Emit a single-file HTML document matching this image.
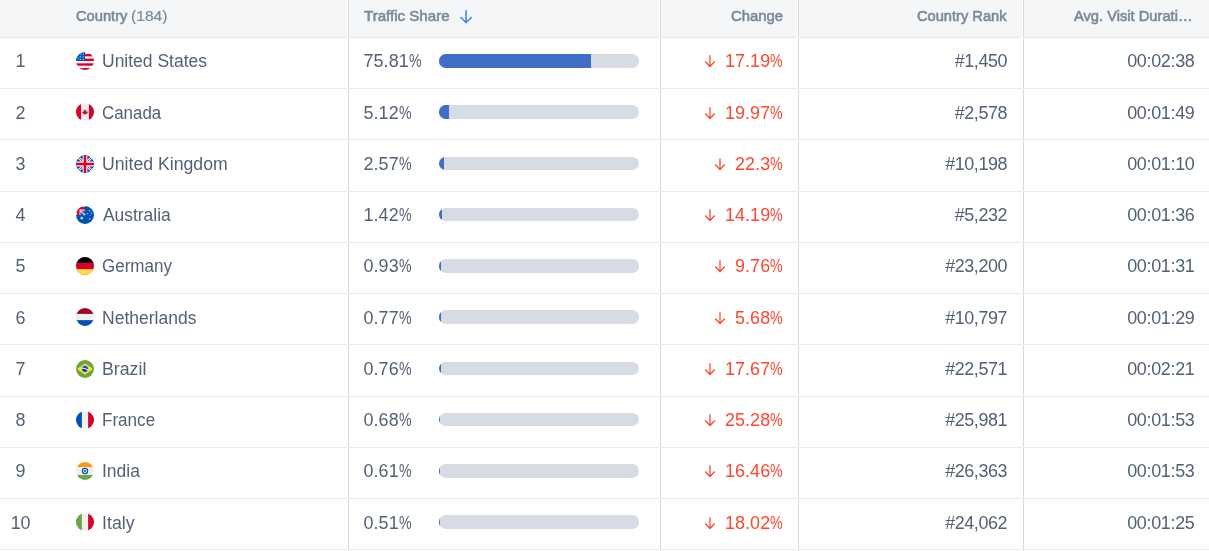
<!DOCTYPE html>
<html><head><meta charset="utf-8"><title>Traffic by country</title>
<style>
*{box-sizing:border-box}
html,body{margin:0;padding:0;background:#fff}
body{width:1209px;height:551px;overflow:hidden;position:relative;font-family:"Liberation Sans",sans-serif}
#t{position:absolute;left:0;top:0;width:1209px;height:551px;overflow:hidden;background:#fff}
#L{position:absolute;left:0;top:0;width:1209px;height:551px;will-change:transform;background:transparent}
.hd{position:absolute;left:0;top:0;width:1209px;height:37px;background:#f4f6f8}
.hl{position:absolute;left:0;width:1209px;height:1px;background:#e9ebee}
.vl{position:absolute;top:0;width:1px;height:551px;background:#d9dbdf}
.vg{position:absolute;top:0;width:1px;height:551px;background:#fff}
.h{position:absolute;top:6.2px;height:20px;line-height:20px;font-size:15.36px;font-weight:normal;color:#7a8899;-webkit-text-stroke:0.6px #7a8899;white-space:pre;transform-origin:0 50%}
.h.n{-webkit-text-stroke:0.2px #7a8899}
.r{position:absolute;left:0;width:1209px;height:51.25px}
.c{position:absolute;top:12.9px;height:22px;line-height:22px;font-size:17.92px;color:#526276;white-space:pre}
.ix{left:0;width:41.2px;text-align:center}
.cn{transform-origin:0 50%}
.ts{left:363.5px;letter-spacing:0.09px}
.ch{right:426.2px;color:#fb4630;letter-spacing:0.09px}
.rk{right:201.9px;letter-spacing:-0.4px}
.du{right:14.5px;letter-spacing:-0.3px}
.p{display:inline-block;width:12.6px;transform:scaleX(.79);transform-origin:0 50%;font-style:normal;letter-spacing:0}
.f{position:absolute;left:76px;top:14.8px;width:18px;height:18px;display:block}
.b{position:absolute;left:439px;top:16.8px;width:200px;height:13.7px;border-radius:6.85px;background:#d7dbe3;overflow:hidden}
.b u{display:block;height:100%;background:#3e6ec6}
.ar{display:inline-block;vertical-align:top;width:12.6px;height:22px;margin-right:8.7px}
</style></head><body>
<div id="t">
<div class="hd"></div>
<div class="vl" style="left:348px"></div>
<div class="vl" style="left:660px"></div>
<div class="vl" style="left:798px"></div>
<div class="vl" style="left:1023px"></div>
<div class="hl" style="top:37px"></div>
<div class="hl" style="top:88px"></div>
<div class="hl" style="top:139px"></div>
<div class="hl" style="top:191px"></div>
<div class="hl" style="top:242px"></div>
<div class="hl" style="top:293px"></div>
<div class="hl" style="top:344px"></div>
<div class="hl" style="top:396px"></div>
<div class="hl" style="top:447px"></div>
<div class="hl" style="top:498px"></div>
<div class="hl" style="top:549px"></div>
<div class="vg" style="left:347px"></div>
<div class="vg" style="left:659px"></div>
<div class="vg" style="left:797px"></div>
<div class="vg" style="left:1022px"></div>
<div id="L">
<div class="h" style="left:76.02px;transform:scaleX(0.9551)">Country</div>
<div class="h n" style="left:131.24px;transform:scaleX(1.0160)">(184)</div>
<div class="h" style="left:363.80px;transform:scaleX(0.9827)">Traffic Share</div>
<svg style="position:absolute;left:459px;top:9px" width="14" height="15" viewBox="0 0 14 15"><path d="M7.1 1.3 V13.4 M1.5 8 L7.1 13.7 L12.7 8" fill="none" stroke="#4285f4" stroke-width="1.6"/></svg>
<div class="h" style="left:730.77px;transform:scaleX(0.9659)">Change</div>
<div class="h" style="left:917.22px;transform:scaleX(0.9536)">Country Rank</div>
<div class="h" style="left:1074.04px;transform:scaleX(0.9559)">Avg. Visit Durati…</div>
<div class="r" style="top:37px">
<div class="c ix" style="top:13px">1</div>
<svg class="f" style="top:14.8px" viewBox="0 0 512 512"><defs><clipPath id="c0"><circle cx="256" cy="256" r="256"/></clipPath></defs><g clip-path="url(#c0)"><rect width="512" height="512" fill="#f0f0f0"/><rect x="244.9" y="55.7" width="268" height="66.8" fill="#d80027"/><rect x="244.9" y="189.2" width="268" height="66.8" fill="#d80027"/><rect x="0" y="322.8" width="512" height="66.8" fill="#d80027"/><rect x="0" y="456.3" width="512" height="56" fill="#d80027"/><rect x="0" y="0" width="256" height="256" fill="#0052b4"/><path d="M120.0,113.0 L126.9,129.5 L144.7,131.0 L131.1,142.6 L135.3,160.0 L120.0,150.7 L104.7,160.0 L108.9,142.6 L95.3,131.0 L113.1,129.5ZM205.0,113.0 L211.9,129.5 L229.7,131.0 L216.1,142.6 L220.3,160.0 L205.0,150.7 L189.7,160.0 L193.9,142.6 L180.3,131.0 L198.1,129.5ZM120.0,181.0 L126.9,197.5 L144.7,199.0 L131.1,210.6 L135.3,228.0 L120.0,218.7 L104.7,228.0 L108.9,210.6 L95.3,199.0 L113.1,197.5ZM205.0,181.0 L211.9,197.5 L229.7,199.0 L216.1,210.6 L220.3,228.0 L205.0,218.7 L189.7,228.0 L193.9,210.6 L180.3,199.0 L198.1,197.5ZM205.0,36.0 L211.3,51.3 L227.8,52.6 L215.3,63.3 L219.1,79.4 L205.0,70.8 L190.9,79.4 L194.7,63.3 L182.2,52.6 L198.7,51.3ZM140.0,55.0 L145.3,67.7 L159.0,68.8 L148.6,77.8 L151.8,91.2 L140.0,84.0 L128.2,91.2 L131.4,77.8 L121.0,68.8 L134.7,67.7ZM60.0,160.0 L65.3,172.7 L79.0,173.8 L68.6,182.8 L71.8,196.2 L60.0,189.0 L48.2,196.2 L51.4,182.8 L41.0,173.8 L54.7,172.7Z" fill="#f0f0f0"/></g></svg>
<div class="c cn" style="top:13px;left:101.73px;transform:scaleX(0.9767)">United States</div>
<div class="c ts" style="top:13px">75.81<i class="p">%</i></div>
<div class="b" style="top:17.00px"><u style="width:151.62px"></u></div>
<div class="c ch" style="top:13px"><svg class="ar" viewBox="0 0 12.6 22"><path d="M6 5.2 V16.4 M1.2 11.5 L6 16.5 L10.8 11.5" fill="none" stroke="#fb4630" stroke-width="1.25"/></svg>17.19<i class="p">%</i></div>
<div class="c rk" style="top:13px">#1,450</div>
<div class="c du" style="top:13px">00:02:38</div>
</div>
<div class="r" style="top:88px">
<div class="c ix" style="top:14px">2</div>
<svg class="f" style="top:14.8px" viewBox="0 0 512 512"><defs><clipPath id="c1"><circle cx="256" cy="256" r="256"/></clipPath></defs><g clip-path="url(#c1)"><rect width="512" height="512" fill="#f0f0f0"/><rect x="0" width="144.7" height="512" fill="#d80027"/><rect x="367.3" width="145" height="512" fill="#d80027"/><path d="M300.5 289.4 L345 267.1 L322.8 256 V233.7 L278.3 256 L300.5 211.5 H278.3 L256 178.1 L233.7 211.5 H211.5 L233.7 256 L189.2 233.7 V256 L167 267.1 L211.5 289.4 L200.3 311.7 H244.9 V345 H267.1 V311.7 H311.7 Z" fill="#d80027"/></g></svg>
<div class="c cn" style="top:14px;left:102.06px;transform:scaleX(0.9441)">Canada</div>
<div class="c ts" style="top:14px">5.12<i class="p">%</i></div>
<div class="b" style="top:17.25px"><u style="width:10.24px"></u></div>
<div class="c ch" style="top:14px"><svg class="ar" viewBox="0 0 12.6 22"><path d="M6 5.2 V16.4 M1.2 11.5 L6 16.5 L10.8 11.5" fill="none" stroke="#fb4630" stroke-width="1.25"/></svg>19.97<i class="p">%</i></div>
<div class="c rk" style="top:14px">#2,578</div>
<div class="c du" style="top:14px">00:01:49</div>
</div>
<div class="r" style="top:139px">
<div class="c ix" style="top:14px">3</div>
<svg class="f" style="top:15.6px" viewBox="0 0 512 512"><defs><clipPath id="c2"><circle cx="256" cy="256" r="256"/></clipPath></defs><g clip-path="url(#c2)"><rect width="512" height="512" fill="#0052b4"/><path d="M0 0 L512 512 M512 0 L0 512" stroke="#f0f0f0" stroke-width="72"/><path d="M0 0 L512 512 M512 0 L0 512" stroke="#d80027" stroke-width="24"/><path d="M256 0 V512 M0 256 H512" stroke="#f0f0f0" stroke-width="136"/><path d="M256 0 V512 M0 256 H512" stroke="#d80027" stroke-width="72"/></g></svg>
<div class="c cn" style="top:14px;left:101.72px;transform:scaleX(0.9868)">United Kingdom</div>
<div class="c ts" style="top:14px">2.57<i class="p">%</i></div>
<div class="b" style="top:17.50px"><u style="width:5.14px"></u></div>
<div class="c ch" style="top:14px"><svg class="ar" viewBox="0 0 12.6 22"><path d="M6 5.2 V16.4 M1.2 11.5 L6 16.5 L10.8 11.5" fill="none" stroke="#fb4630" stroke-width="1.25"/></svg>22.3<i class="p">%</i></div>
<div class="c rk" style="top:14px">#10,198</div>
<div class="c du" style="top:14px">00:01:10</div>
</div>
<div class="r" style="top:191px">
<div class="c ix" style="top:13px">4</div>
<svg class="f" style="top:14.8px" viewBox="0 0 512 512"><defs><clipPath id="c3"><circle cx="256" cy="256" r="256"/></clipPath></defs><g clip-path="url(#c3)"><rect width="512" height="512" fill="#0052b4"/><path d="M0 0 H256 V256 H0 Z" fill="#f0f0f0"/><path d="M20 30 H256 V100 H100 V256 H30 V60 Z" fill="#d80027"/><rect x="133" y="133" width="123" height="123" fill="#0052b4"/><path d="M133 133 L256 256" stroke="#f0f0f0" stroke-width="60"/><path d="M150 133 L256 239" stroke="#d80027" stroke-width="26"/><path d="M133 200 L190 256" stroke="#0052b4" stroke-width="40"/><path d="M163.0,290.0 L174.3,318.6 L203.7,309.6 L188.3,336.2 L213.7,353.6 L183.3,358.2 L185.6,388.9 L163.0,368.0 L140.4,388.9 L142.7,358.2 L112.3,353.6 L137.7,336.2 L122.3,309.6 L151.7,318.6ZM386.0,108.0 L391.2,121.2 L404.8,117.0 L397.7,129.3 L409.4,137.3 L395.4,139.5 L396.4,153.6 L386.0,144.0 L375.6,153.6 L376.6,139.5 L362.6,137.3 L374.3,129.3 L367.2,117.0 L380.8,121.2ZM447.0,176.0 L452.2,189.2 L465.8,185.0 L458.7,197.3 L470.4,205.3 L456.4,207.5 L457.4,221.6 L447.0,212.0 L436.6,221.6 L437.6,207.5 L423.6,205.3 L435.3,197.3 L428.2,185.0 L441.8,189.2ZM322.0,198.0 L327.2,211.2 L340.8,207.0 L333.7,219.3 L345.4,227.3 L331.4,229.5 L332.4,243.6 L322.0,234.0 L311.6,243.6 L312.6,229.5 L298.6,227.3 L310.3,219.3 L303.2,207.0 L316.8,211.2ZM402.0,253.0 L406.4,261.9 L416.3,263.4 L409.1,270.3 L410.8,280.1 L402.0,275.5 L393.2,280.1 L394.9,270.3 L387.7,263.4 L397.6,261.9ZM390.0,344.0 L395.2,357.2 L408.8,353.0 L401.7,365.3 L413.4,373.3 L399.4,375.5 L400.4,389.6 L390.0,380.0 L379.6,389.6 L380.6,375.5 L366.6,373.3 L378.3,365.3 L371.2,353.0 L384.8,357.2Z" fill="#f0f0f0"/></g></svg>
<div class="c cn" style="top:13px;left:102.60px;transform:scaleX(0.9720)">Australia</div>
<div class="c ts" style="top:13px">1.42<i class="p">%</i></div>
<div class="b" style="top:16.75px"><u style="width:2.84px"></u></div>
<div class="c ch" style="top:13px"><svg class="ar" viewBox="0 0 12.6 22"><path d="M6 5.2 V16.4 M1.2 11.5 L6 16.5 L10.8 11.5" fill="none" stroke="#fb4630" stroke-width="1.25"/></svg>14.19<i class="p">%</i></div>
<div class="c rk" style="top:13px">#5,232</div>
<div class="c du" style="top:13px">00:01:36</div>
</div>
<div class="r" style="top:242px">
<div class="c ix" style="top:13px">5</div>
<svg class="f" style="top:14.8px" viewBox="0 0 512 512"><defs><clipPath id="c4"><circle cx="256" cy="256" r="256"/></clipPath></defs><g clip-path="url(#c4)"><rect width="512" height="512" fill="#d80027"/><rect width="512" height="167" fill="#000"/><rect y="345" width="512" height="167" fill="#ffda44"/></g></svg>
<div class="c cn" style="top:13px;left:102.25px;transform:scaleX(0.9503)">Germany</div>
<div class="c ts" style="top:13px">0.93<i class="p">%</i></div>
<div class="b" style="top:17.00px"><u style="width:1.86px"></u></div>
<div class="c ch" style="top:13px"><svg class="ar" viewBox="0 0 12.6 22"><path d="M6 5.2 V16.4 M1.2 11.5 L6 16.5 L10.8 11.5" fill="none" stroke="#fb4630" stroke-width="1.25"/></svg>9.76<i class="p">%</i></div>
<div class="c rk" style="top:13px">#23,200</div>
<div class="c du" style="top:13px">00:01:31</div>
</div>
<div class="r" style="top:293px">
<div class="c ix" style="top:14px">6</div>
<svg class="f" style="top:14.8px" viewBox="0 0 512 512"><defs><clipPath id="c5"><circle cx="256" cy="256" r="256"/></clipPath></defs><g clip-path="url(#c5)"><rect width="512" height="512" fill="#f0f0f0"/><rect width="512" height="167" fill="#a2001d"/><rect y="345" width="512" height="167" fill="#0052b4"/></g></svg>
<div class="c cn" style="top:14px;left:102.23px;transform:scaleX(0.9788)">Netherlands</div>
<div class="c ts" style="top:14px">0.77<i class="p">%</i></div>
<div class="b" style="top:17.25px"><u style="width:1.54px"></u></div>
<div class="c ch" style="top:14px"><svg class="ar" viewBox="0 0 12.6 22"><path d="M6 5.2 V16.4 M1.2 11.5 L6 16.5 L10.8 11.5" fill="none" stroke="#fb4630" stroke-width="1.25"/></svg>5.68<i class="p">%</i></div>
<div class="c rk" style="top:14px">#10,797</div>
<div class="c du" style="top:14px">00:01:29</div>
</div>
<div class="r" style="top:344px">
<div class="c ix" style="top:14px">7</div>
<svg class="f" style="top:15.7px" viewBox="0 0 512 512"><defs><clipPath id="c6"><circle cx="256" cy="256" r="256"/></clipPath></defs><g clip-path="url(#c6)"><rect width="512" height="512" fill="#6da544"/><path d="M256 96 L484 256 L256 416 L28 256 Z" fill="#ffda44"/><circle cx="256" cy="256" r="89" fill="#f0f0f0"/><path d="M211.5 250.4 c-15.5 0 -30.400 2.400 -44.500 6.700 C167.600 305.800 207.200 345 256 345 c30.200 0 56.800 -15 72.900 -38 C301.400 272.600 259 250.400 211.500 250.400z" fill="#0052b4"/><path d="M343.400 273.100 c1.100 -5.500 1.600 -11.200 1.600 -17.100 c0 -49.200 -39.900 -89 -89 -89 c-36.700 0 -68.100 22.200 -81.800 53.800 c11.900 -2.500 24.400 -3.800 37.300 -3.800 C263.400 217 310.400 238.600 343.400 273.100z" fill="#0052b4"/></g></svg>
<div class="c cn" style="top:14px;left:102.21px;transform:scaleX(0.9905)">Brazil</div>
<div class="c ts" style="top:14px">0.76<i class="p">%</i></div>
<div class="b" style="top:17.50px"><u style="width:1.52px"></u></div>
<div class="c ch" style="top:14px"><svg class="ar" viewBox="0 0 12.6 22"><path d="M6 5.2 V16.4 M1.2 11.5 L6 16.5 L10.8 11.5" fill="none" stroke="#fb4630" stroke-width="1.25"/></svg>17.67<i class="p">%</i></div>
<div class="c rk" style="top:14px">#22,571</div>
<div class="c du" style="top:14px">00:02:21</div>
</div>
<div class="r" style="top:396px">
<div class="c ix" style="top:13px">8</div>
<svg class="f" style="top:14.8px" viewBox="0 0 512 512"><defs><clipPath id="c7"><circle cx="256" cy="256" r="256"/></clipPath></defs><g clip-path="url(#c7)"><rect width="512" height="512" fill="#f0f0f0"/><rect width="167" height="512" fill="#0052b4"/><rect x="345" width="167" height="512" fill="#d80027"/></g></svg>
<div class="c cn" style="top:13px;left:102.27px;transform:scaleX(0.9533)">France</div>
<div class="c ts" style="top:13px">0.68<i class="p">%</i></div>
<div class="b" style="top:16.75px"><u style="width:1.36px"></u></div>
<div class="c ch" style="top:13px"><svg class="ar" viewBox="0 0 12.6 22"><path d="M6 5.2 V16.4 M1.2 11.5 L6 16.5 L10.8 11.5" fill="none" stroke="#fb4630" stroke-width="1.25"/></svg>25.28<i class="p">%</i></div>
<div class="c rk" style="top:13px">#25,981</div>
<div class="c du" style="top:13px">00:01:53</div>
</div>
<div class="r" style="top:447px">
<div class="c ix" style="top:13px">9</div>
<svg class="f" style="top:14.8px" viewBox="0 0 512 512"><defs><clipPath id="c8"><circle cx="256" cy="256" r="256"/></clipPath></defs><g clip-path="url(#c8)"><rect width="512" height="512" fill="#f0f0f0"/><rect width="512" height="144.7" fill="#ff9811"/><rect y="367.3" width="512" height="145" fill="#6da544"/><circle cx="256" cy="256" r="74" fill="none" stroke="#0052b4" stroke-width="36"/><circle cx="256" cy="256" r="29" fill="#0052b4"/></g></svg>
<div class="c cn" style="top:13px;left:101.99px;transform:scaleX(0.9784)">India</div>
<div class="c ts" style="top:13px">0.61<i class="p">%</i></div>
<div class="b" style="top:17.00px"><u style="width:1.22px"></u></div>
<div class="c ch" style="top:13px"><svg class="ar" viewBox="0 0 12.6 22"><path d="M6 5.2 V16.4 M1.2 11.5 L6 16.5 L10.8 11.5" fill="none" stroke="#fb4630" stroke-width="1.25"/></svg>16.46<i class="p">%</i></div>
<div class="c rk" style="top:13px">#26,363</div>
<div class="c du" style="top:13px">00:01:53</div>
</div>
<div class="r" style="top:498px">
<div class="c ix" style="top:14px">10</div>
<svg class="f" style="top:14.8px" viewBox="0 0 512 512"><defs><clipPath id="c9"><circle cx="256" cy="256" r="256"/></clipPath></defs><g clip-path="url(#c9)"><rect width="512" height="512" fill="#f0f0f0"/><rect width="167" height="512" fill="#6da544"/><rect x="345" width="167" height="512" fill="#d80027"/></g></svg>
<div class="c cn" style="top:14px;left:102.16px;transform:scaleX(0.9935)">Italy</div>
<div class="c ts" style="top:14px">0.51<i class="p">%</i></div>
<div class="b" style="top:17.25px"><u style="width:1.02px"></u></div>
<div class="c ch" style="top:14px"><svg class="ar" viewBox="0 0 12.6 22"><path d="M6 5.2 V16.4 M1.2 11.5 L6 16.5 L10.8 11.5" fill="none" stroke="#fb4630" stroke-width="1.25"/></svg>18.02<i class="p">%</i></div>
<div class="c rk" style="top:14px">#24,062</div>
<div class="c du" style="top:14px">00:01:25</div>
</div>
</div>
</div></body></html>
